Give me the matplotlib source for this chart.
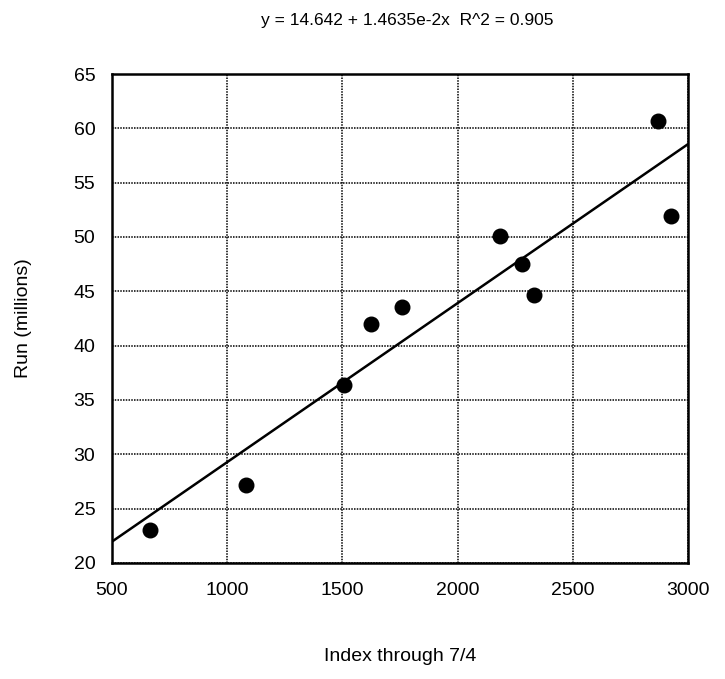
import matplotlib
matplotlib.use("Agg")
import matplotlib.pyplot as plt
import numpy as np

plt.rcParams["font.family"] = ["Liberation Sans", "DejaVu Sans"]

# data
index_vals = [665, 1080, 1505, 1625, 1760, 2185, 2280, 2330, 2870, 2925]
run_vals = [23.0, 27.2, 36.4, 42.0, 43.6, 50.1, 47.5, 44.7, 60.7, 51.9]
intercept = 14.642
slope = 1.4635e-2
x_ticks = [500, 1000, 1500, 2000, 2500, 3000]
y_ticks = [20, 25, 30, 35, 40, 45, 50, 55, 60, 65]

fig = plt.figure(figsize=(7.25, 6.79), dpi=100)
ax = fig.add_axes([0.1545, 0.171, 0.7945, 0.72])

# regression line across the full x range
line_x = np.array([x_ticks[0], x_ticks[-1]])
ax.plot(line_x, intercept + slope * line_x, color="black", linewidth=1.8, zorder=3)

ax.scatter(index_vals, run_vals, s=110, color="black", zorder=4)

ax.set_xlim(x_ticks[0], x_ticks[-1])
ax.set_ylim(y_ticks[0], y_ticks[-1])
ax.set_xticks(x_ticks)
ax.set_yticks(y_ticks)
ax.grid(True, color="black", linestyle=(0, (1, 0.8)), linewidth=1.1)
ax.set_axisbelow(True)
ax.tick_params(axis="x", length=0, labelsize=14, pad=14)
ax.tick_params(axis="y", length=0, labelsize=14, pad=12)
for sp in ax.spines.values():
    sp.set_linewidth(1.8)

ax.set_xlabel("Index through 7/4", fontsize=14, labelpad=35)
ax.set_ylabel("Run (millions)", fontsize=14, labelpad=30)
fig.text(0.5615, 0.97, "y = 14.642 + 1.4635e-2x  R^2 = 0.905", fontsize=12.5,
         ha="center", va="center")

plt.savefig("out.png", dpi=100)
plt.close()
